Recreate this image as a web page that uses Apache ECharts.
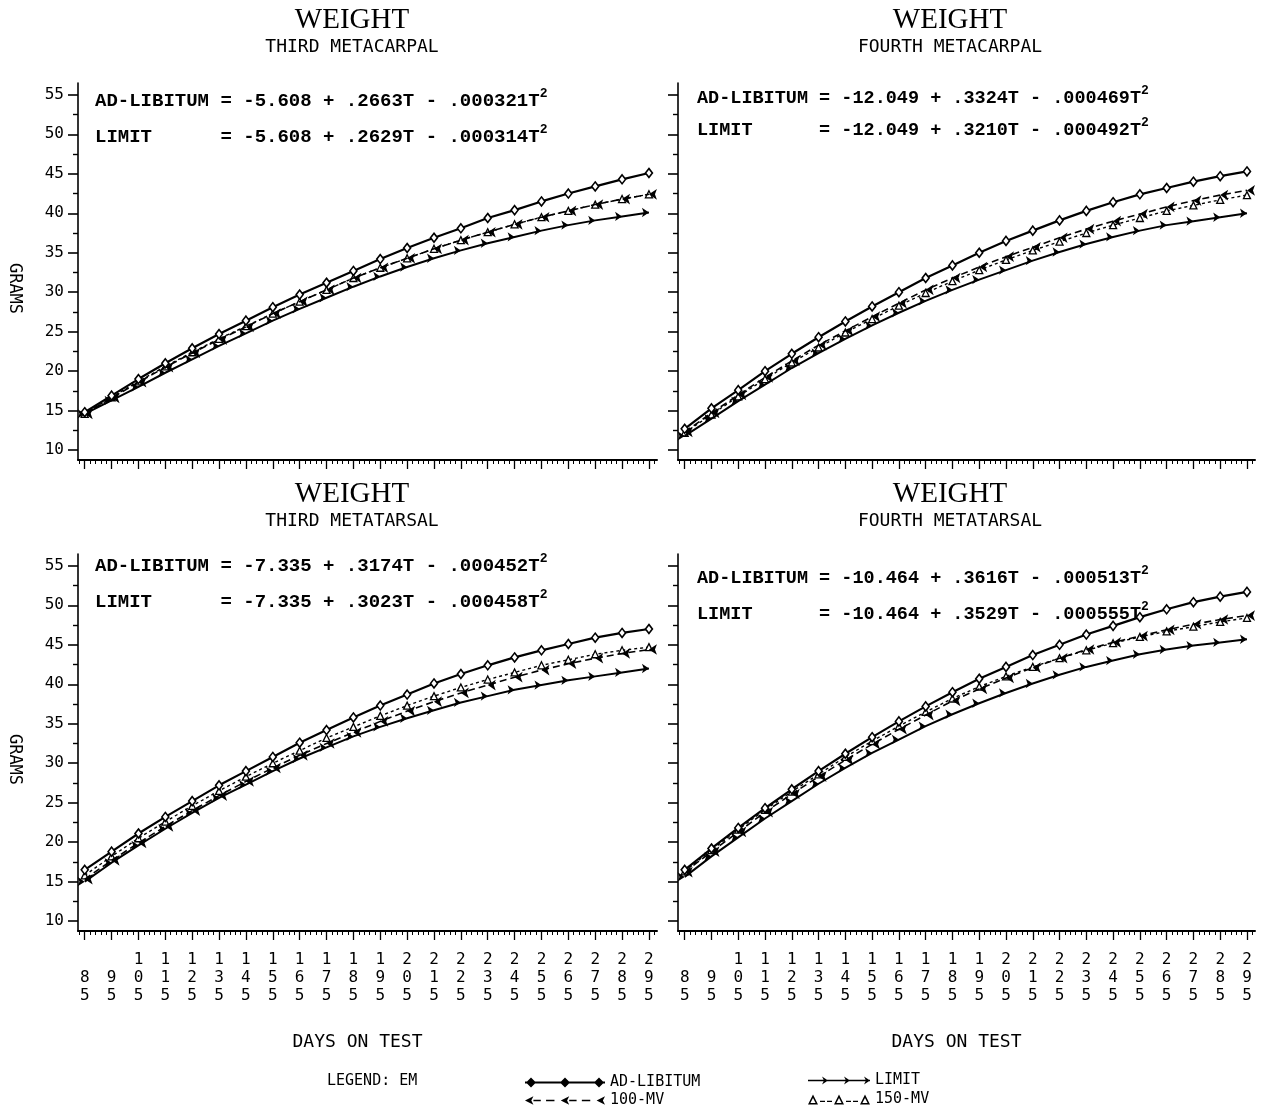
<!DOCTYPE html>
<html>
<head>
<meta charset="utf-8">
<script src="https://cdn.jsdelivr.net/npm/echarts@6/dist/echarts.min.js"></script>
<style>
  html, body { margin: 0; padding: 0; background: #fff; }
  #chart { width: 1266px; height: 1111px; }
</style>
</head>
<body>
<div id="chart"></div>
<script>
// Days on test (x positions of every plotted point)
const DAYS = [85, 95, 105, 115, 125, 135, 145, 155, 165, 175, 185, 195, 205, 215, 225, 235, 245, 255, 265, 275, 285, 295];

// Axis ticks
const X_MAJOR = [85, 95, 105, 115, 125, 135, 145, 155, 165, 175, 185, 195, 205, 215, 225, 235, 245, 255, 265, 275, 285, 295];
const Y_MAJOR = [10, 15, 20, 25, 30, 35, 40, 45, 50, 55];
const Y_MINOR = [12.5, 17.5, 22.5, 27.5, 32.5, 37.5, 42.5, 47.5, 52.5];

// Third metacarpal weight (grams)
const MC3_ADLIB = [14.8, 16.9, 19.0, 21.0, 22.9, 24.7, 26.4, 28.1, 29.7, 31.2, 32.7, 34.2, 35.6, 36.9, 38.1, 39.4, 40.4, 41.5, 42.5, 43.4, 44.3, 45.1];
const MC3_LIMIT = [14.6, 16.3, 18.0, 19.8, 21.5, 23.2, 24.8, 26.4, 27.9, 29.3, 30.7, 32.0, 33.2, 34.3, 35.3, 36.2, 37.0, 37.8, 38.5, 39.1, 39.6, 40.1];
const MC3_MV100 = [14.6, 16.6, 18.6, 20.5, 22.3, 24.0, 25.6, 27.3, 28.8, 30.3, 31.8, 33.1, 34.3, 35.5, 36.6, 37.6, 38.6, 39.5, 40.3, 41.1, 41.8, 42.4];
const MC3_MV150 = [14.6, 16.7, 18.7, 20.6, 22.4, 24.1, 25.7, 27.3, 28.8, 30.3, 31.8, 33.1, 34.3, 35.5, 36.6, 37.6, 38.6, 39.5, 40.3, 41.1, 41.8, 42.4];

// Fourth metacarpal weight (grams)
const MC4_ADLIB = [12.7, 15.3, 17.6, 20.0, 22.2, 24.3, 26.3, 28.2, 30.0, 31.8, 33.4, 35.0, 36.5, 37.8, 39.1, 40.3, 41.4, 42.4, 43.2, 44.0, 44.7, 45.3];
const MC4_LIMIT = [11.8, 14.0, 16.2, 18.3, 20.4, 22.3, 24.1, 25.8, 27.4, 28.9, 30.3, 31.6, 32.8, 34.0, 35.1, 36.1, 37.0, 37.8, 38.5, 39.0, 39.5, 40.0];
const MC4_MV100 = [12.3, 14.7, 17.0, 19.2, 21.3, 23.3, 25.1, 26.9, 28.6, 30.3, 31.8, 33.2, 34.5, 35.7, 36.9, 38.0, 39.0, 39.9, 40.8, 41.6, 42.3, 42.9];
const MC4_MV150 = [12.2, 14.5, 16.8, 19.0, 21.1, 23.0, 24.9, 26.6, 28.3, 29.9, 31.4, 32.8, 34.1, 35.3, 36.4, 37.5, 38.5, 39.4, 40.3, 41.0, 41.7, 42.3];

// Third metatarsal weight (grams)
const MT3_ADLIB = [16.5, 18.8, 21.1, 23.2, 25.2, 27.2, 29.0, 30.8, 32.6, 34.2, 35.8, 37.3, 38.7, 40.1, 41.3, 42.4, 43.4, 44.3, 45.1, 45.9, 46.5, 47.0];
const MT3_LIMIT = [15.0, 17.4, 19.6, 21.7, 23.7, 25.6, 27.3, 29.0, 30.6, 32.0, 33.4, 34.6, 35.7, 36.7, 37.7, 38.5, 39.3, 39.9, 40.5, 41.0, 41.5, 42.0];
const MT3_MV100 = [15.3, 17.7, 19.9, 22.0, 24.0, 25.9, 27.7, 29.4, 31.0, 32.5, 33.9, 35.3, 36.6, 37.8, 38.9, 39.9, 40.9, 41.8, 42.6, 43.3, 43.9, 44.4];
const MT3_MV150 = [15.8, 18.2, 20.5, 22.6, 24.6, 26.5, 28.3, 30.0, 31.6, 33.2, 34.6, 36.0, 37.3, 38.5, 39.6, 40.6, 41.5, 42.4, 43.1, 43.8, 44.3, 44.7];

// Fourth metatarsal weight (grams)
const MT4_ADLIB = [16.5, 19.2, 21.8, 24.3, 26.7, 29.0, 31.2, 33.3, 35.3, 37.2, 39.0, 40.7, 42.2, 43.7, 45.0, 46.3, 47.4, 48.5, 49.5, 50.4, 51.1, 51.7];
const MT4_LIMIT = [15.6, 18.2, 20.6, 23.0, 25.2, 27.4, 29.4, 31.3, 33.0, 34.7, 36.2, 37.6, 38.9, 40.1, 41.2, 42.2, 43.0, 43.8, 44.4, 44.9, 45.3, 45.7];
const MT4_MV100 = [16.2, 18.8, 21.3, 23.8, 26.1, 28.3, 30.4, 32.4, 34.3, 36.1, 37.9, 39.4, 40.8, 42.1, 43.3, 44.4, 45.3, 46.1, 46.9, 47.6, 48.2, 48.7];
const MT4_MV150 = [16.3, 19.0, 21.6, 24.1, 26.4, 28.6, 30.8, 32.8, 34.7, 36.5, 38.2, 39.7, 41.0, 42.2, 43.3, 44.3, 45.2, 46.0, 46.7, 47.3, 47.9, 48.4];

// Regression equations printed in each panel
const EQUATIONS = [
  ['AD-LIBITUM = -5.608 + .2663T - .000321T', 'LIMIT      = -5.608 + .2629T - .000314T'],
  ['AD-LIBITUM = -12.049 + .3324T - .000469T', 'LIMIT      = -12.049 + .3210T - .000492T'],
  ['AD-LIBITUM = -7.335 + .3174T - .000452T', 'LIMIT      = -7.335 + .3023T - .000458T'],
  ['AD-LIBITUM = -10.464 + .3616T - .000513T', 'LIMIT      = -10.464 + .3529T - .000555T']
];
const SUBTITLES = ['THIRD METACARPAL', 'FOURTH METACARPAL', 'THIRD METATARSAL', 'FOURTH METATARSAL'];
const PANEL_DATA = [
  { 'AD-LIBITUM': MC3_ADLIB, 'LIMIT': MC3_LIMIT, '100-MV': MC3_MV100, '150-MV': MC3_MV150 },
  { 'AD-LIBITUM': MC4_ADLIB, 'LIMIT': MC4_LIMIT, '100-MV': MC4_MV100, '150-MV': MC4_MV150 },
  { 'AD-LIBITUM': MT3_ADLIB, 'LIMIT': MT3_LIMIT, '100-MV': MT3_MV100, '150-MV': MT3_MV150 },
  { 'AD-LIBITUM': MT4_ADLIB, 'LIMIT': MT4_LIMIT, '100-MV': MT4_MV100, '150-MV': MT4_MV150 }
];

// ---- layout & styles ----
const PLOT_FONT = '"DejaVu Sans Mono", monospace';
const EQ_FONT = '"Liberation Mono", monospace';
const X_MIN = 82.5, X_MAX = 298;
const Y_MIN = 8.75, Y_MAX = 56.5;
const X_MINOR = [];
for (let d = 83; d <= 297; d += 2) X_MINOR.push(d);

const LAYOUT = [
  { left: 78,  top: 83,  width: 579, height: 377, cx: 352, ty: 20,  eqX: 95,  eqY: [101, 137], eqSize: 19,   yLabels: true,  xLabels: false },
  { left: 678, top: 83,  width: 577, height: 377, cx: 950, ty: 20,  eqX: 697, eqY: [98, 130],  eqSize: 18.5, yLabels: false, xLabels: false },
  { left: 78,  top: 554, width: 579, height: 377, cx: 352, ty: 494, eqX: 95,  eqY: [566, 602], eqSize: 19,   yLabels: true,  xLabels: true },
  { left: 678, top: 554, width: 577, height: 377, cx: 950, ty: 494, eqX: 697, eqY: [578, 614], eqSize: 18.5, yLabels: false, xLabels: true }
];

const SERIES_STYLE = {
  '150-MV': {
    symbol: 'triangle', symbolSize: 7, symbolRotate: 0,
    itemStyle: { color: '#fff', borderColor: '#000', borderWidth: 1.3 },
    lineStyle: { color: '#000', width: 1.4, type: [3, 3] }, z: 2
  },
  '100-MV': {
    symbol: 'arrow', symbolSize: 8, symbolRotate: 90,
    itemStyle: { color: '#000' },
    lineStyle: { color: '#000', width: 1.6, type: [7, 4] }, z: 3
  },
  'LIMIT': {
    symbol: 'arrow', symbolSize: 7, symbolRotate: -90,
    itemStyle: { color: '#000' },
    lineStyle: { color: '#000', width: 2, type: 'solid' }, z: 4
  },
  'AD-LIBITUM': {
    symbol: 'diamond', symbolSize: [7, 9], symbolRotate: 0,
    itemStyle: { color: '#fff', borderColor: '#000', borderWidth: 1.6 },
    lineStyle: { color: '#000', width: 2.2, type: 'solid' }, z: 5
  }
};

// legend swatches: a line with three markers
const ICON_ADLIB = 'path://M0,4L80,4L80,6L0,6Z' +
  'M1,5L6,0L11,5L6,10Z M35,5L40,0L45,5L40,10Z M69,5L74,0L79,5L74,10Z';
const ICON_LIMIT = 'path://M0,4.2L62,4.2L62,5.8L0,5.8Z' +
  'M14,1L20,5L14,9L16,5Z M36,1L42,5L36,9L38,5Z M56,1L62,5L56,9L58,5Z';
const ICON_MV100 = 'path://M2,5L10,1L8,5L10,9Z M36,5L44,1L42,5L44,9Z M70,5L78,1L76,5L78,9Z' +
  'M10,4.2L17,4.2L17,5.8L10,5.8Z M22,4.2L30,4.2L30,5.8L22,5.8Z' +
  'M44,4.2L51,4.2L51,5.8L44,5.8Z M56,4.2L64,4.2L64,5.8L56,5.8Z';
function openTri(x) {
  return 'M' + (x - 5) + ',10L' + x + ',0L' + (x + 5) + ',10Z' +
         'M' + (x - 2.6) + ',8.6L' + (x + 2.6) + ',8.6L' + x + ',3.6Z';
}
const ICON_MV150 = 'path://' + openTri(5) + openTri(31) + openTri(57) +
  'M12,6.2L17,6.2L17,7.4L12,7.4Z M19,6.2L24,6.2L24,7.4L19,7.4Z' +
  'M38,6.2L43,6.2L43,7.4L38,7.4Z M45,6.2L50,6.2L50,7.4L45,7.4Z';

function stackDigits(v) {
  const s = String(Math.round(v)).split('');
  while (s.length < 3) s.unshift(' ');
  return s.join('\n');
}

const grid = [], xAxis = [], yAxis = [], series = [], graphic = [];

LAYOUT.forEach((p, i) => {
  grid.push({ left: p.left, top: p.top, width: p.width, height: p.height, containLabel: false });

  // main x axis: line, long ticks, stacked labels
  xAxis.push({
    type: 'value', gridIndex: i, min: X_MIN, max: X_MAX, position: 'bottom',
    axisLine: { show: true, onZero: false, lineStyle: { color: '#000', width: 2 } },
    axisTick: { show: true, customValues: X_MAJOR, length: 9, lineStyle: { color: '#000', width: 1.3 } },
    axisLabel: {
      show: p.xLabels, customValues: X_MAJOR, formatter: stackDigits,
      fontFamily: PLOT_FONT, fontSize: 16, lineHeight: 18, color: '#000', margin: 20
    },
    splitLine: { show: false },
    name: p.xLabels ? 'DAYS ON TEST' : '', nameLocation: 'middle', nameGap: 102,
    nameTextStyle: { fontFamily: PLOT_FONT, fontSize: 18, color: '#000', padding: [0, 20, 0, 0] }
  });
  // ruler ticks every two days
  xAxis.push({
    type: 'value', gridIndex: i, min: X_MIN, max: X_MAX, position: 'bottom',
    axisLine: { show: false },
    axisTick: { show: true, customValues: X_MINOR, length: 4, lineStyle: { color: '#000', width: 1 } },
    axisLabel: { show: false }, splitLine: { show: false }
  });

  yAxis.push({
    type: 'value', gridIndex: i, min: Y_MIN, max: Y_MAX, position: 'left',
    axisLine: { show: true, onZero: false, lineStyle: { color: '#000', width: 1.6 } },
    axisTick: { show: true, customValues: Y_MAJOR, length: 10, lineStyle: { color: '#000', width: 1.6 } },
    axisLabel: {
      show: p.yLabels, customValues: Y_MAJOR, margin: 14,
      fontFamily: PLOT_FONT, fontSize: 16, color: '#000'
    },
    splitLine: { show: false },
    name: p.yLabels ? 'GRAMS' : '', nameLocation: 'middle', nameRotate: -90, nameGap: 55,
    nameTextStyle: { fontFamily: PLOT_FONT, fontSize: 17, color: '#000', padding: [0, 0, 0, 34] }
  });
  yAxis.push({
    type: 'value', gridIndex: i, min: Y_MIN, max: Y_MAX, position: 'left',
    axisLine: { show: false },
    axisTick: { show: true, customValues: Y_MINOR, length: 5, lineStyle: { color: '#000', width: 1.4 } },
    axisLabel: { show: false }, splitLine: { show: false }
  });

  ['150-MV', '100-MV', 'LIMIT', 'AD-LIBITUM'].forEach(name => {
    const st = SERIES_STYLE[name];
    series.push({
      type: 'line', name: name, xAxisIndex: i * 2, yAxisIndex: i * 2,
      data: DAYS.map((d, k) => [d, PANEL_DATA[i][name][k]]),
      symbol: st.symbol, symbolSize: st.symbolSize, symbolRotate: st.symbolRotate,
      symbolKeepAspect: true, showSymbol: true,
      itemStyle: st.itemStyle, lineStyle: st.lineStyle, z: st.z,
      emphasis: { disabled: true }, silent: true
    });
  });

  // panel headings
  graphic.push({
    type: 'text', x: p.cx, y: p.ty,
    style: { text: 'WEIGHT', fontFamily: '"Liberation Serif", serif', fontSize: 29,
             fill: '#000', align: 'center', verticalAlign: 'middle' }
  });
  graphic.push({
    type: 'text', x: p.cx, y: p.ty + 27,
    style: { text: SUBTITLES[i], fontFamily: PLOT_FONT, fontSize: 18,
             fill: '#000', align: 'center', verticalAlign: 'middle' }
  });
  // regression equations with squared exponent
  EQUATIONS[i].forEach((eq, j) => {
    graphic.push({
      type: 'text', x: p.eqX, y: p.eqY[j],
      style: {
        text: '{m|' + eq + '}{s|2}', align: 'left', verticalAlign: 'middle',
        rich: {
          m: { fontFamily: EQ_FONT, fontWeight: 'bold', fontSize: p.eqSize, fill: '#000' },
          s: { fontFamily: EQ_FONT, fontWeight: 'bold', fontSize: 13, fill: '#000', padding: [0, 0, 14, 0] }
        }
      }
    });
  });
});

graphic.push({
  type: 'text', x: 327, y: 1081,
  style: { text: 'LEGEND: EM', fontFamily: PLOT_FONT, fontSize: 15, fill: '#000',
           align: 'left', verticalAlign: 'middle' }
});

function legendItem(name, icon, left, top, w) {
  return {
    data: [{ name: name, icon: icon }], left: left, top: top,
    itemWidth: w, itemHeight: 10, itemGap: 0, padding: 0, selectedMode: false,
    itemStyle: { color: '#000', borderWidth: 0 },
    textStyle: { fontFamily: PLOT_FONT, fontSize: 15, color: '#000', padding: [0, 0, 0, 0] }
  };
}

const option = {
  backgroundColor: '#fff',
  animation: false,
  grid: grid,
  xAxis: xAxis,
  yAxis: yAxis,
  series: series,
  graphic: graphic,
  legend: [
    legendItem('AD-LIBITUM', ICON_ADLIB, 525, 1075, 80),
    legendItem('LIMIT', ICON_LIMIT, 808, 1073, 62),
    legendItem('100-MV', ICON_MV100, 525, 1093, 80),
    legendItem('150-MV', ICON_MV150, 808, 1092, 62)
  ]
};

const chart = echarts.init(document.getElementById('chart'), null, { renderer: 'canvas' });
chart.setOption(option);
</script>
</body>
</html>
